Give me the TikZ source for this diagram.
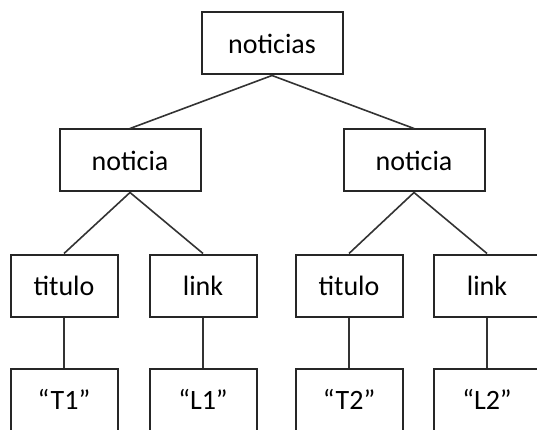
\documentclass[tikz,border=0pt]{standalone}
\usepackage{fontspec}
\setmainfont{Carlito}
\usetikzlibrary{positioning}

\tikzset{
  treebox/.style={draw=black!85, line width=2pt, rectangle, inner sep=0pt,
    minimum height=62pt, font=\fontsize{28}{32}\selectfont},
  wide/.style={treebox, minimum width=141pt},
  narrow/.style={treebox, minimum width=107pt},
  branch/.style={draw=black!80, line width=1.6pt}
}

\begin{document}
\begin{tikzpicture}[x=1pt,y=-1pt]
  \useasboundingbox (0,0) rectangle (537,430);
  \clip (0,0) rectangle (537,430);
  % top two levels
  \node[wide] (noticias) at (272,43.5) {noticias};
  \node[wide] (noticiaA) at (130,160.5) {noticia};
  \node[wide] (noticiaB) at (414,160.5) {noticia};
  \draw[branch] (noticias.south) -- (noticiaA.north);
  \draw[branch] (noticias.south) -- (noticiaB.north);
  % leaves and their values
  \foreach \name/\x/\parent/\txt/\val in {
      tituloA/64/noticiaA/titulo/T1,
      linkA/203/noticiaA/link/L1,
      tituloB/349/noticiaB/titulo/T2,
      linkB/487/noticiaB/link/L2} {
      \node[narrow] (\name) at (\x,285.5) {\txt};
      \node[narrow] (\name-val) at (\x,399.5) {“\val”};
      \draw[branch] (\parent.south) -- (\name.north);
      \draw[branch] (\name.south) -- (\name-val.north);
  }
\end{tikzpicture}
\end{document}
